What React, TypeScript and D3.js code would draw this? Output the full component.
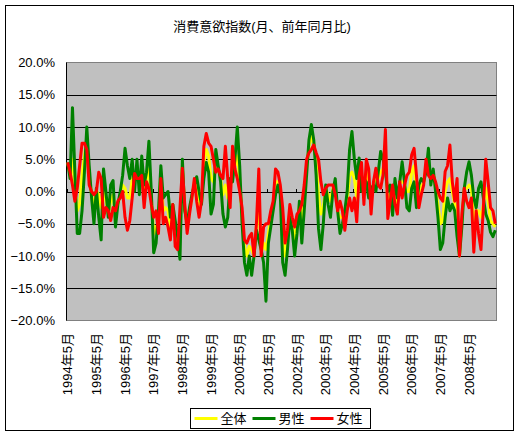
import * as d3 from 'd3';
import React from 'react';

// 消費意欲指数 monthly, 1994-05 .. 2009-04 (前年同月比, %)
const startMonth = new Date(1994, 4, 1);
const monthCount = 180;

const total = [
  4.5, 2.5, 5.0, 0.5, -3.0, -2.0, 2.5, 5.5, 8.0, 2.5,
  -0.5, -2.5, 0.2, -0.5, -2.5, 0.0, -1.5, -3.5, -1.5, -0.5,
  -4.0, -2.0, -0.5, 1.0, 0.5, -1.0, -1.0, 2.0, 1.5, 3.0,
  1.0, 3.5, -0.5, 2.0, 3.5, -1.0, -6.5, -5.5, -5.0, 3.0,
  -3.0, -2.5, -3.0, -5.5, -2.0, -6.5, -8.0, -6.0, 4.0, -2.5,
  -5.5, -3.0, -1.0, 1.5, 0.5, -2.0, -1.8, 4.5, 6.5, 5.5,
  2.0, 1.5, 4.5, 3.5, 2.0, -0.5, 1.0, -1.0, 0.0, 4.0,
  4.0, 5.5, 2.0, -4.0, -8.5, -10.0, -8.5, -9.0, -10.0, -5.5,
  -2.0, -9.5, -8.0, -9.0, -6.5, -4.0, -2.5, 1.5, 1.5, 0.5,
  -7.0, -10.0, -7.0, -3.0, -5.0, -7.5, -5.0, -2.0, -4.5, -1.0,
  3.5, 7.0, 8.5, 7.5, 4.5, -0.5, -3.5, -2.5, 0.5, -0.5,
  -1.5, 0.5, 0.5, -3.0, -4.0, -4.0, -4.5, -1.5, 2.5, 3.0,
  2.0, -1.0, 3.5, 2.0, 0.0, 3.0, 1.0, -1.5, 1.2, 2.0,
  2.0, 3.0, 3.5, 6.0, -2.0, 0.0, -1.0, 0.0, -2.0, 1.5,
  1.5, 1.2, 0.0, 0.0, 3.0, 4.0, 0.0, -0.5, 1.0, 1.2,
  4.0, 4.5, 1.5, 3.0, 0.5, -2.0, -5.0, -4.5, 0.0, 1.5,
  2.0, 0.0, -2.0, -2.5, -10.0, -4.5, 0.5, 0.5, 1.0, 0.5,
  -5.0, -3.0, -3.0, -4.0, -2.0, 0.5, -1.5, -4.5, -5.0, -5.5,
];

const male = [
  4.5, 2.0, 13.0, 3.0, -6.5, -6.5, -3.0, 3.0, 10.0, 4.0,
  -1.0, -5.0, 0.5, -4.0, -7.5, 3.5, 0.0, -4.0, 1.0, 1.7,
  -5.5, -2.0, 0.0, 2.5, 6.7, 4.0, 2.0, 5.0, 0.0, 5.0,
  -0.5, 5.5, 1.0, 3.0, 7.8, 0.0, -9.5, -8.0, -3.0, 4.0,
  -1.0, -0.5, 0.0, -4.0, -2.0, -4.5, -7.0, -10.5, 5.0, -3.0,
  -5.0, -2.5, -0.5, 1.0, 2.3, 0.0, -2.0, 2.0, 4.5, 3.0,
  -3.5, -2.0, 6.5, 4.0, 1.5, -3.5, -5.5, -4.0, 2.0, 1.5,
  5.0, 10.0, 4.0, -5.0, -11.0, -13.0, -10.0, -13.0, -10.0, -6.0,
  -7.5, -9.0, -11.0, -17.0, -8.0, -5.5, -3.0, -0.5, 1.0, -0.5,
  -11.0, -13.0, -9.0, -4.0, -6.0, -10.0, -6.5, -1.5, -8.0, -3.0,
  2.5, 8.0, 10.4, 8.0, 2.5, -5.8, -9.0, -5.0, 1.0, -2.0,
  -4.0, 0.0, 2.0, -3.0, -6.5, -5.0, -3.0, 0.0, 6.5, 9.3,
  5.0, 2.0, 5.2, 0.0, 2.0, 1.5, -1.0, 0.5, 1.0, 0.0,
  3.0, 6.2, 5.0, 3.0, 0.0, 1.0, -3.7, 2.0, -1.0, 1.5,
  4.6, 1.5, -2.5, -3.0, 0.5, 1.5, -2.5, 1.0, 2.0, 1.5,
  3.0, 6.7, 1.0, 3.5, 0.0, -4.0, -9.0, -8.0, -4.0, -1.0,
  -3.0, -2.0, -3.0, -7.0, -10.0, -5.5, 0.5, 3.0, 4.6, 2.5,
  -1.0, -2.5, 0.5, 1.5, -1.0, -3.5, -4.5, -6.3, -7.0, -6.0,
];

const female = [
  4.5, 3.0, 1.0, -1.5, 0.5, 4.0, 7.5, 7.5, 6.5, 1.0,
  0.0, -0.5, 0.0, 3.0, 2.0, -4.0, -2.5, -3.0, -4.5, -2.5,
  -3.0, -1.5, -1.0, 0.0, -4.0, -6.0, -4.5, -1.0, 2.8, 2.0,
  2.0, 2.5, -2.5, 1.5, 0.5, -2.0, -4.0, -3.0, -6.5, 2.0,
  -5.0, -4.0, -5.5, -7.5, -2.0, -8.5, -9.0, -2.5, 3.6, -2.0,
  -6.5, -3.5, -1.0, 2.0, -1.5, -4.0, -1.5, 7.0, 9.0, 7.5,
  7.0, 5.0, 3.0, 3.5, 2.5, 2.0, 7.0, 2.0, -2.5, 7.0,
  3.5, 2.0, 0.0, -2.5, -7.5, -8.0, -7.0, -6.5, -10.0, -5.0,
  3.5, -10.0, -5.5, -5.0, -5.0, -3.0, -1.5, 3.5, 3.0, 1.0,
  -2.5, -8.0, -6.0, -2.0, -4.0, -5.5, -3.5, -3.0, -2.0, 1.0,
  5.0, 6.0, 6.5, 7.2, 6.0, 5.0, 1.5, -0.5, 0.5, 1.0,
  1.0, 1.0, -0.5, -3.0, -1.5, -3.0, -6.0, -3.0, -1.0, -3.0,
  -1.0, -4.7, 2.5, 4.5, -2.0, 5.0, 3.5, -3.5, 1.5, 3.6,
  1.0, 0.5, 2.5, 9.6, -4.2, -1.5, 1.0, -2.0, -3.5, 1.5,
  -1.0, 1.0, 2.5, 3.0, 5.7, 6.7, 2.5, -2.5, -0.5, 1.0,
  5.0, 2.5, 2.0, 2.5, 1.5, 0.0, -1.0, -1.5, 3.1, 4.0,
  7.2, 1.5, -1.5, 2.0, -10.0, -3.5, 0.5, -1.5, -2.5, -1.0,
  -9.4, -3.0, -6.5, -9.0, -2.5, 5.0, 1.5, -2.5, -3.0, -5.0,
];

const seriesNames = ['全体', '男性', '女性'];
const seriesColors = ['#FFFF00', '#008000', '#FF0000'];
const seriesData = [total, male, female];
const yTicks = [-20, -15, -10, -5, 0, 5, 10, 15, 20];

const FONT = '"Liberation Sans", "Noto Sans CJK JP", sans-serif';

export default function App() {
  const months = d3.timeMonth.range(startMonth, d3.timeMonth.offset(startMonth, monthCount));
  const left = 66.5, right = 496.5, top = 62.5, bottom = 320.5;

  const x = d3.scaleBand<Date>().domain(months).range([left, right]);
  const y = d3.scaleLinear().domain([-20, 20]).range([bottom, top]);
  const cx = (d: Date) => x(d)! + x.bandwidth() / 2;

  const line = d3.line<number>()
    .x((_, i) => cx(months[i]))
    .y(v => y(v));

  const labelMonths = months.filter((_, i) => i % 12 === 0);
  const fmt = d3.format('.1f');

  return (
    <svg width={520} height={436} style={{ position: 'absolute', left: 0, top: 0 }} fontFamily={FONT}>
      <rect x={5.5} y={5.5} width={508} height={425} fill="#fff" stroke="#000" />
      <text x={262} y={31} textAnchor="middle" fontSize={13}>消費意欲指数(月、前年同月比)</text>

      <rect x={left} y={top} width={right - left} height={bottom - top} fill="#C0C0C0" stroke="#808080" />
      {yTicks.filter(t => t > -20 && t < 20).map(t => (
        <line key={t} x1={left} x2={right} y1={Math.round(y(t)) + 0.5} y2={Math.round(y(t)) + 0.5} stroke="#000" />
      ))}
      <line x1={left} x2={left} y1={top} y2={bottom} stroke="#000" />
      {labelMonths.map((m, i) => {
        const tx = Math.round(x(m)!) + 0.5;
        return <line key={i} x1={tx} x2={tx} y1={Math.round(y(0)) - 3} y2={Math.round(y(0)) + 0.5} stroke="#000" />;
      })}

      {yTicks.map(t => (
        <text key={t} x={55} y={y(t)} dy="0.35em" textAnchor="end" fontSize={13}>{fmt(t)}%</text>
      ))}

      {seriesData.map((s, k) => (
        <path key={k} d={line(s)!} fill="none" stroke={seriesColors[k]} strokeWidth={3} strokeLinejoin="round" />
      ))}

      {labelMonths.map((m, i) => (
        <text key={i} transform={`translate(${cx(m)},333) rotate(-90)`} dy="0.35em" textAnchor="end" fontSize={13}>
          {`${m.getFullYear()}年${m.getMonth() + 1}月`}
        </text>
      ))}

      <g transform="translate(190.5,408.5)">
        <rect width={180} height={20} fill="#fff" stroke="#000" />
        {seriesNames.map((n, k) => (
          <g key={n} transform={`translate(${4 + k * 58},10)`}>
            <line x1={0} x2={23} y1={0} y2={0} stroke={seriesColors[k]} strokeWidth={3} />
            <text x={26} y={0} dy="0.38em" fontSize={13}>{n}</text>
          </g>
        ))}
      </g>
    </svg>
  );
}
